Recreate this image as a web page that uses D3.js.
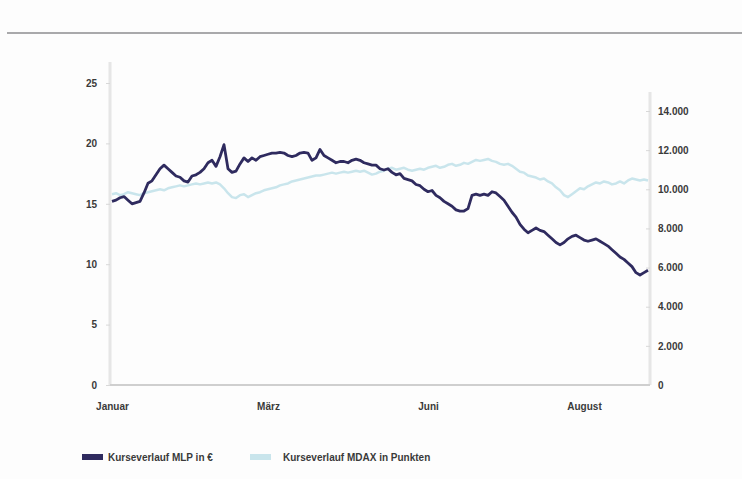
<!DOCTYPE html>
<html>
<head>
<meta charset="utf-8">
<script src="https://cdn.jsdelivr.net/npm/d3@7"></script>
<style>
  body { margin: 0; background: #fdfdfd; }
  text { font-family: "Liberation Sans Narrow", "Liberation Sans", Arial, sans-serif; }
</style>
</head>
<body>
<div id="vis"></div>
<script>
// MLP share price in EUR, one value per sampled trading day
var mlpValues = [15.2, 15.3, 15.5, 15.6, 15.3, 15.0, 15.1, 15.2, 15.9, 16.7,
    16.9, 17.4, 17.9, 18.2, 17.9, 17.6, 17.3, 17.2, 16.9, 16.8,
    17.3, 17.4, 17.6, 17.9, 18.4, 18.6, 18.1, 18.9, 19.9, 17.9,
    17.6, 17.7, 18.3, 18.8, 18.5, 18.8, 18.6, 18.9, 19.0, 19.1,
    19.2, 19.2, 19.25, 19.2, 19.0, 18.9, 19.0, 19.2, 19.25, 19.2,
    18.6, 18.8, 19.5, 19.0, 18.8, 18.6, 18.4, 18.5, 18.5, 18.4,
    18.6, 18.7, 18.6, 18.4, 18.3, 18.2, 18.2, 17.9, 17.8, 17.9,
    17.6, 17.4, 17.5, 17.1, 17.0, 16.9, 16.6, 16.5, 16.2, 16.0,
    16.1, 15.7, 15.5, 15.2, 15.0, 14.8, 14.5, 14.4, 14.4, 14.6,
    15.7, 15.8, 15.7, 15.8, 15.7, 16.0, 15.9, 15.6, 15.3, 14.8,
    14.3, 13.9, 13.3, 12.9, 12.6, 12.8, 13.0, 12.8, 12.7, 12.4,
    12.1, 11.8, 11.6, 11.8, 12.1, 12.3, 12.4, 12.2, 12.0, 11.9,
    12.0, 12.1, 11.9, 11.7, 11.5, 11.2, 10.9, 10.6, 10.4, 10.1,
    9.8, 9.3, 9.1, 9.3, 9.5];

// MDAX in points
var mdaxValues = [9750, 9800, 9700, 9750, 9850, 9800, 9750, 9700, 9800, 9850,
    9900, 9950, 10000, 9950, 10050, 10100, 10150, 10200, 10150, 10200,
    10250, 10300, 10250, 10300, 10350, 10300, 10350, 10250, 10050, 9800,
    9600, 9550, 9700, 9750, 9600, 9700, 9800, 9850, 9950, 10000,
    10050, 10100, 10200, 10250, 10300, 10400, 10450, 10500, 10550, 10600,
    10650, 10700, 10700, 10750, 10800, 10850, 10800, 10850, 10900, 10850,
    10900, 10950, 10900, 10950, 10850, 10750, 10800, 10900, 10950, 11050,
    11100, 11000, 11050, 11100, 11000, 10950, 11000, 11050, 11000, 11100,
    11150, 11200, 11100, 11150, 11250, 11300, 11200, 11250, 11350, 11300,
    11400, 11500, 11450, 11500, 11550, 11450, 11400, 11300, 11250, 11300,
    11200, 11050, 10900, 10850, 10700, 10650, 10600, 10500, 10550, 10400,
    10300, 10100, 9950, 9700, 9600, 9750, 9900, 10050, 10000, 10150,
    10250, 10350, 10300, 10400, 10350, 10250, 10300, 10400, 10300, 10450,
    10550, 10500, 10450, 10500, 10450];

var monthLabels = ["Januar", "März", "Juni", "August"];
var monthIndex = [0, 39, 79, 118];
var leftTicks = [0, 5, 10, 15, 20, 25];
var rightTicks = [0, 2000, 4000, 6000, 8000, 10000, 12000, 14000];
var seriesNames = ["Kurseverlauf MLP in €", "Kurseverlauf MDAX in Punkten"];
var seriesColors = ["#2f2b5f", "#c9e5ec"];

var W = 742, H = 479;
var left = 110, right = 650, bottom = 385;

var de = d3.formatLocale({ decimal: ",", thousands: ".", grouping: [3], currency: ["", " €"] });
var fmt = de.format(",");

var svg = d3.select("#vis").append("svg")
    .attr("width", W)
    .attr("height", H);

// top rule
svg.append("line")
    .attr("x1", 7).attr("x2", W)
    .attr("y1", 33).attr("y2", 33)
    .attr("stroke", "#a9a9ab").attr("stroke-width", 2);

var x = d3.scaleLinear()
    .domain([0, mlpValues.length - 1])
    .range([left + 2, right - 2]);

var yL = d3.scaleLinear().domain([0, 25]).range([bottom, 83]);
var yR = d3.scaleLinear().domain([0, 14000]).range([bottom, 111]);

// axis lines
svg.append("line")
    .attr("x1", left).attr("x2", left)
    .attr("y1", bottom).attr("y2", 62)
    .attr("stroke", "#e6e6e6").attr("stroke-width", 3);
svg.append("line")
    .attr("x1", right).attr("x2", right)
    .attr("y1", bottom).attr("y2", 92)
    .attr("stroke", "#e6e6e6").attr("stroke-width", 3);

var leftAxis = d3.axisLeft(yL).tickValues(leftTicks).tickSize(4).tickPadding(9);
var gl = svg.append("g")
    .attr("transform", "translate(" + left + ",0)")
    .call(leftAxis);
gl.select(".domain").remove();

var rightAxis = d3.axisRight(yR).tickValues(rightTicks).tickSize(4).tickPadding(4).tickFormat(fmt);
var gr = svg.append("g")
    .attr("transform", "translate(" + right + ",0)")
    .call(rightAxis);
gr.select(".domain").remove();

[gl, gr].forEach(function(g) {
    g.selectAll(".tick line").attr("stroke", "#d8d8d8");
    g.selectAll(".tick text")
        .attr("fill", "#3a3a3a")
        .style("font-size", "10px")
        .style("font-weight", "bold");
});
gr.selectAll(".tick line").attr("x1", -4).attr("x2", 0);

// x baseline
svg.append("line")
    .attr("x1", left).attr("x2", right)
    .attr("y1", bottom).attr("y2", bottom)
    .attr("stroke", "#cfcfcf").attr("stroke-width", 2);

var xAxis = d3.axisBottom(x)
    .tickValues(monthIndex)
    .tickSize(0)
    .tickPadding(18)
    .tickFormat(function(d, i) { return monthLabels[i]; });
var gx = svg.append("g")
    .attr("transform", "translate(0," + bottom + ")")
    .call(xAxis);
gx.select(".domain").remove();
gx.selectAll(".tick text")
    .attr("fill", "#3a3a3a")
    .style("font-size", "10px")
    .style("font-weight", "bold");

// lines
var mdaxLine = d3.line()
    .x(function(d, i) { return x(i); })
    .y(function(d) { return yR(d); });
var mlpLine = d3.line()
    .x(function(d, i) { return x(i); })
    .y(function(d) { return yL(d); });

svg.append("path")
    .datum(mdaxValues)
    .attr("d", mdaxLine)
    .attr("fill", "none")
    .attr("stroke", seriesColors[1])
    .attr("stroke-width", 2.5)
    .attr("stroke-linejoin", "round");

svg.append("path")
    .datum(mlpValues)
    .attr("d", mlpLine)
    .attr("fill", "none")
    .attr("stroke", seriesColors[0])
    .attr("stroke-width", 2.8)
    .attr("stroke-linejoin", "round");

// legend
var legendX = [82, 250];
var legend = svg.selectAll(".legend")
    .data(seriesNames)
    .enter().append("g")
    .attr("class", "legend")
    .attr("transform", function(d, i) { return "translate(" + legendX[i] + ",454)"; });
legend.append("rect")
    .attr("width", 21).attr("height", 6)
    .attr("fill", function(d, i) { return seriesColors[i]; });
legend.append("text")
    .attr("x", function(d, i) { return i == 0 ? 26 : 33; })
    .attr("y", 7)
    .attr("fill", "#3a3a3a")
    .style("font-size", "10px")
    .style("font-weight", "bold")
    .text(function(d) { return d; });
</script>
</body>
</html>
